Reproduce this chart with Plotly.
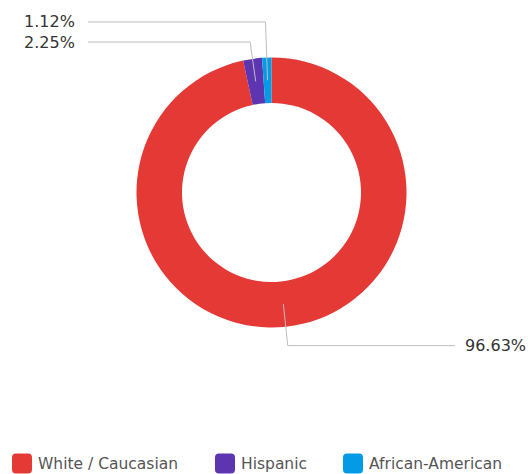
import math
import plotly.graph_objects as go

# Ethnicity breakdown (percent of total)
categories = ["White / Caucasian", "Hispanic", "African-American"]
shares = [96.63, 2.25, 1.12]
colors = ["#E53935", "#5E35B1", "#039BE5"]

W, H = 528, 474
CX, CY = 271.5, 192.5      # donut centre in pixels
R_OUT = 135.0              # outer radius in pixels
HOLE = 0.663               # inner / outer radius
LINE_COLOR = "#BDBDBD"
LABEL_FONT = dict(family="DejaVu Sans", size=16, color="#333333")
LEGEND_FONT = dict(family="DejaVu Sans", size=15.5, color="#555555")


def px(x):
    return x / W


def py(y):
    return 1 - y / H


fig = go.Figure(
    go.Pie(
        labels=categories,
        values=shares,
        marker=dict(colors=colors, line=dict(width=0)),
        hole=HOLE,
        sort=False,
        direction="clockwise",
        rotation=0,
        textinfo="none",
        hoverinfo="label+percent",
        showlegend=False,
        domain=dict(
            x=[px(CX - R_OUT), px(CX + R_OUT)],
            y=[py(CY + R_OUT), py(CY - R_OUT)],
        ),
    )
)

# Outside labels with elbow leader lines, computed from the slice angles
total = sum(shares)
r_mid = R_OUT * (1 + HOLE) / 2
cum = 0.0
slices = []
for cat, val in zip(categories, shares):
    theta = math.radians((cum + val / 2) / total * 360)
    cum += val
    slices.append((val, theta))

# small slices near the top are stacked into slots on the left
left_slots = [22, 42]
left_text_x, left_line_x = 77, 88
right_text_x, right_line_x = 463, 455
small = sorted(
    [s for s in slices if math.cos(s[1]) > 0.9 and s[0] / total < 0.05],
    key=lambda s: -s[1],
)
slot_of = {id(s): left_slots[i] for i, s in enumerate(small)}

shapes = []
annotations = []
for s in slices:
    val, theta = s
    sx = CX + r_mid * math.sin(theta)
    sy = CY - r_mid * math.cos(theta)
    if id(s) in slot_of:
        ly = slot_of[id(s)]
    else:
        ly = CY - (R_OUT + 19) * math.cos(theta)
    t = (CY - ly) / math.cos(theta)
    ex = CX + t * math.sin(theta)
    on_left = ex < CX or id(s) in slot_of
    end_x = left_line_x if on_left else right_line_x
    path = f"M{px(sx)},{py(sy)} L{px(ex)},{py(ly)} L{px(end_x)},{py(ly)}"
    shapes.append(dict(type="path", xref="paper", yref="paper", path=path,
                       line=dict(color=LINE_COLOR, width=1)))
    annotations.append(dict(
        xref="paper", yref="paper",
        x=px(left_text_x if on_left else right_text_x), y=py(ly),
        xanchor="right" if on_left else "left", yanchor="middle",
        text=f"{val / total * 100:.2f}%", showarrow=False, font=LABEL_FONT,
    ))

# Legend row with rounded swatches
legend_box_x = [12, 215, 343]
legend_y, box, rad = 463.5, 20, 4
for cat, col, bx in zip(categories, colors, legend_box_x):
    x0, x1 = bx, bx + box
    y0, y1 = legend_y - box / 2, legend_y + box / 2
    p = (
        f"M{px(x0 + rad)},{py(y0)} L{px(x1 - rad)},{py(y0)} "
        f"Q{px(x1)},{py(y0)} {px(x1)},{py(y0 + rad)} "
        f"L{px(x1)},{py(y1 - rad)} Q{px(x1)},{py(y1)} {px(x1 - rad)},{py(y1)} "
        f"L{px(x0 + rad)},{py(y1)} Q{px(x0)},{py(y1)} {px(x0)},{py(y1 - rad)} "
        f"L{px(x0)},{py(y0 + rad)} Q{px(x0)},{py(y0)} {px(x0 + rad)},{py(y0)} Z"
    )
    shapes.append(dict(type="path", xref="paper", yref="paper", path=p,
                       fillcolor=col, line=dict(width=0)))
    annotations.append(dict(
        xref="paper", yref="paper", x=px(x1 + 4), y=py(legend_y),
        xanchor="left", yanchor="middle", text=cat, showarrow=False,
        font=LEGEND_FONT,
    ))

fig.update_layout(
    width=W,
    height=H,
    margin=dict(l=0, r=0, t=0, b=0),
    paper_bgcolor="white",
    plot_bgcolor="white",
    shapes=shapes,
    annotations=annotations,
)

fig.write_html("out.html")
